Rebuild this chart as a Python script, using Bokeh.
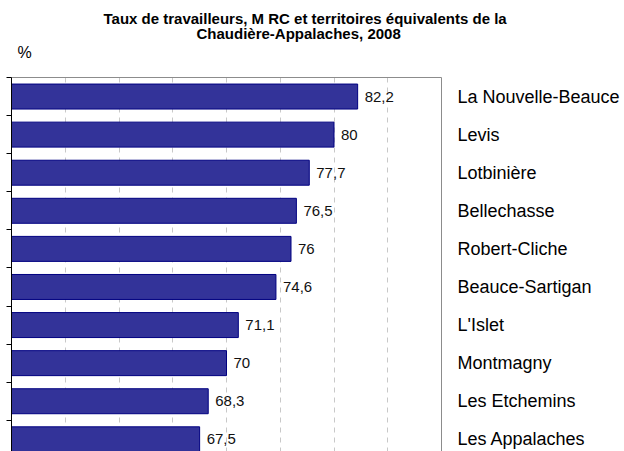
from bokeh.plotting import figure
from bokeh.models import Range1d, FixedTicker, LinearAxis, Title
from bokeh.core.properties import value
from bokeh.embed import file_html
from bokeh.resources import INLINE

# ---- data (top to bottom) ----
territories = ["La Nouvelle-Beauce", "Levis", "Lotbinière", "Bellechasse", "Robert-Cliche",
               "Beauce-Sartigan", "L'Islet", "Montmagny", "Les Etchemins", "Les Appalaches"]
rates = [82.2, 80, 77.7, 76.5, 76, 74.6, 71.1, 70, 68.3, 67.5]
rate_labels = ["82,2", "80", "77,7", "76,5", "76", "74,6", "71,1", "70", "68,3", "67,5"]
grid_ticks = [55, 60, 65, 70, 75, 80, 85]
title_line1 = "Taux de travailleurs, M RC et territoires équivalents de la"
title_line2 = "Chaudière-Appalaches, 2008"
unit_label = "%"

FONT = "Liberation Sans"
ys = [i + 0.5 for i in range(len(territories))]

p = figure(width=622, height=451, output_backend="svg", toolbar_location=None,
           x_range=Range1d(50, 90), y_range=Range1d(9.82, 0),
           x_axis_location=None, y_axis_location=None, title=None,
           min_border_left=11, min_border_right=181, min_border_top=77, min_border_bottom=0)
p.outline_line_color = None
p.background_fill_color = "white"
p.border_fill_color = "white"

# gridlines
p.ygrid.visible = False
p.xgrid.ticker = FixedTicker(ticks=grid_ticks)
p.xgrid.grid_line_color = "#c8c8c8"
p.xgrid.grid_line_dash = "5 5"

# left axis (category boundaries)
left_ax = LinearAxis(ticker=FixedTicker(ticks=list(range(len(territories) + 1))))
left_ax.axis_line_color = "black"
left_ax.major_tick_line_color = "black"
left_ax.major_tick_out = 5
left_ax.major_tick_in = 0
left_ax.minor_tick_line_color = None
left_ax.major_label_text_font_size = "0px"
left_ax.major_label_standoff = 0
p.add_layout(left_ax, "left")

# right axis with territory names
right_ax = LinearAxis(ticker=FixedTicker(ticks=ys))
right_ax.major_label_overrides = {y: n for y, n in zip(ys, territories)}
right_ax.axis_line_color = "#8c8c8c"
right_ax.major_tick_line_color = None
right_ax.minor_tick_line_color = None
right_ax.major_tick_out = 0
right_ax.major_tick_in = 0
right_ax.major_label_standoff = 16
right_ax.major_label_text_font = FONT
right_ax.major_label_text_font_size = "18px"
right_ax.major_label_text_color = "black"
p.add_layout(right_ax, "right")

# top border; invisible tick gives spacing below the "%" label
top_ax = LinearAxis(ticker=FixedTicker(ticks=[70]))
top_ax.axis_line_color = "#8c8c8c"
top_ax.major_tick_line_color = None
top_ax.minor_tick_line_color = None
top_ax.major_tick_out = 17
top_ax.major_tick_in = 0
top_ax.major_label_standoff = 0
top_ax.major_label_text_font_size = "0px"
top_ax.major_label_text_color = None
p.add_layout(top_ax, "above")

# titles stacked above (closest to frame first)
p.add_layout(Title(text=unit_label, align="left", offset=6, standoff=0,
                   text_font=FONT, text_font_size="16px", text_font_style="normal",
                   text_color="black"), "above")
p.add_layout(Title(text=title_line2, align="left", offset=185, standoff=0,
                   text_font=FONT, text_font_size="15px", text_font_style="bold",
                   text_color="black"), "above")
p.add_layout(Title(text=title_line1, align="left", offset=92, standoff=-9,
                   text_font=FONT, text_font_size="15px", text_font_style="bold",
                   text_color="black"), "above")

# bars
p.hbar(y=ys, left=50, right=rates, height=0.656,
       fill_color="#333399", line_color="#000080", line_width=1)

# value labels
p.text(x=rates, y=ys, text=rate_labels, x_offset=7, text_baseline="middle",
       text_align="left", text_font=value(FONT), text_font_size="15px", text_color="#111111")

open("out.html", "w").write(file_html(p, INLINE))
